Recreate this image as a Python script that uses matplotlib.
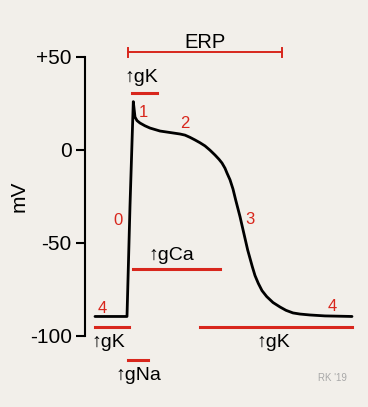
import matplotlib.pyplot as plt

plt.rcParams['font.family'] = ['Liberation Sans', 'DejaVu Sans']

# action potential trace (time in arbitrary units, membrane potential in mV)
time = [10, 42, 45, 48.3, 50, 52, 55, 60, 65, 75, 85, 95, 100, 105, 110, 115,
        120, 125, 130, 134, 137, 140, 142, 145, 148, 150.7, 155, 158.5, 162.7,
        167.3, 170, 173.3, 177, 181.7, 188, 195, 201, 208, 215, 225, 240, 267]
mv = [-89.5, -89.5, -30, 26, 17.7, 15.8, 14.5, 13, 11.8, 10.2, 9.4, 8.6, 8,
      6.8, 5.4, 3.9, 2.2, -0.1, -2.7, -5, -7, -9.8, -12.4, -16, -21, -26.9,
      -35.8, -44, -53.8, -62.7, -67.5, -71.7, -75.6, -78.8, -82, -84.4, -86.2,
      -87.6, -88.2, -88.7, -89.2, -89.5]

yticks = [50, 0, -50, -100]
ytick_labels = ['+50', '0', '-50', '-100']

# phase numbers (label, time, mV)
phases = [('0', 33, -38), ('1', 58, 20), ('2', 100, 14.5), ('3', 165, -37.6),
          ('4', 17, -85), ('4', 247, -84.4)]

# conductance bars (label, start, end, bar mV, text time, text mV)
currents = [('↑gK', 47, 72, 30.5, 56, 39),
            ('↑gCa', 48, 135, -64, 86, -56.5),
            ('↑gK', 10, 44, -95, 23, -103.5),
            ('↑gK', 115, 267, -95, 188, -103.5),
            ('↑gNa', 43, 63, -113, 53, -121.5)]
erp = (43, 197)

red = '#d8261c'
bg = '#f2efea'

fig = plt.figure(figsize=(3.68, 4.07), dpi=100, facecolor=bg)
ax = fig.add_axes([85 / 368, 1 - 336 / 407, 275 / 368, 279 / 407])
ax.set_facecolor(bg)
ax.set_xlim(0, 275)
ax.set_ylim(-100, 50)

ax.plot(time, mv, color='black', lw=2.0, solid_capstyle='round',
        solid_joinstyle='round', clip_on=False)

for label, t, v in phases:
    ax.text(t, v, label, color=red, fontsize=12, ha='center', va='center')

for label, t0, t1, v, tt, tv in currents:
    ax.plot([t0, t1], [v, v], color=red, lw=2.2, clip_on=False)
    ax.text(tt, tv, label, fontsize=14, ha='center', va='center', clip_on=False)

# effective refractory period
ax.plot(erp, [52.5, 52.5], color=red, lw=1.4, clip_on=False)
for t in erp:
    ax.plot([t, t], [50, 55], color=red, lw=1.4, clip_on=False)
ax.text(sum(erp) / 2, 58, 'ERP', fontsize=14.5, ha='center', va='center', clip_on=False)

ax.text(247, -122.5, "RK '19", fontsize=7, color='#a8a8a8', ha='center', va='center', clip_on=False)

for s in ['top', 'right', 'bottom']:
    ax.spines[s].set_visible(False)
ax.spines['left'].set_linewidth(1.5)
ax.set_xticks([])
ax.set_yticks(yticks)
ax.set_yticklabels(ytick_labels, fontsize=15)
ax.tick_params(axis='y', length=6.5, width=1.5, pad=3)
ax.set_ylabel('mV', fontsize=15, labelpad=1)

fig.savefig('out.png', dpi=100, facecolor=bg)
